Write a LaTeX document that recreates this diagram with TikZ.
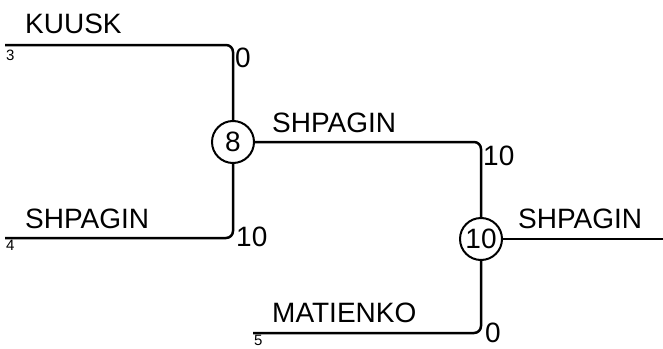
\documentclass[tikz,border=0pt]{standalone}
\usepackage{fontspec}
\setmainfont{Liberation Sans}
\usetikzlibrary{positioning}
\tikzset{
  score/.style = {circle, draw, line width=2pt, inner sep=0pt,
                  minimum size=42pt, font=\fontsize{28}{30}\selectfont},
  team/.style  = {inner sep=0pt, anchor=base west, font=\fontsize{28}{30}\selectfont},
  goals/.style = {team},
  seed/.style  = {inner sep=0pt, anchor=base west, font=\fontsize{15}{16}\selectfont},
  branch/.style= {line width=2.5pt, rounded corners=7pt}
}
\begin{document}
\begin{tikzpicture}[x=1pt,y=-1pt]
\useasboundingbox (0,0) rectangle (663,348);
% matches
\node [score] (sf) at (233,142) {8};
\node [score] (fin) at (481,239) {10};
% players
\coordinate (kuusk) at (5,45);
\coordinate (shpagin) at (5,238);
\coordinate (matienko) at (253,333);
\coordinate (champ) at (663,239);
\draw [branch] (kuusk) -| (sf);
\draw [branch] (shpagin) -| (sf);
\draw [branch] (sf) -| (fin);
\draw [branch] (matienko) -| (fin);
\draw [branch] (fin) -- (champ);
% names
\node [team] (n1) at (25,33) {KUUSK};
\node [team] (n2) at (25,228) {SHPAGIN};
\node [team] (n3) at (272,132) {SHPAGIN};
\node [team] (n4) at (272,322) {MATIENKO};
\node [team] (n5) at (518,228) {SHPAGIN};
% seeds
\node [seed] (s1) at (6,60) {3};
\node [seed] (s2) at (6,250) {4};
\node [seed] (s3) at (254,345) {5};
% scores
\node [goals] (g1) at (235,67) {0};
\node [goals] (g2) at (236,246) {10};
\node [goals] (g3) at (483,165) {10};
\node [goals] (g4) at (485,342) {0};
\end{tikzpicture}
\end{document}
